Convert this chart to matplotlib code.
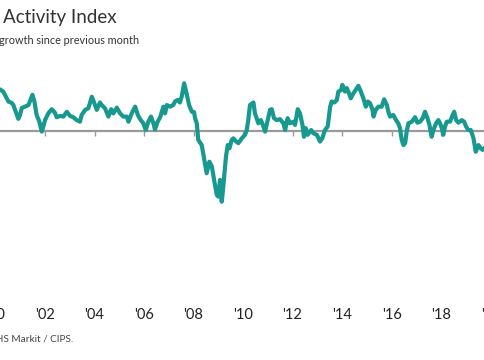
import numpy as np
import matplotlib.pyplot as plt

plt.rcParams['font.family'] = ['Lato', 'DejaVu Sans']

# index values (50 = no change)
years = [2000.18, 2000.31, 2000.38, 2000.52, 2000.65, 2000.72, 2000.79, 2000.92, 2000.99,
         2001.06, 2001.19, 2001.33, 2001.49, 2001.57, 2001.66, 2001.77, 2001.87, 2001.93,
         2002.00, 2002.13, 2002.27, 2002.40, 2002.47, 2002.61, 2002.74, 2002.88,
         2003.01, 2003.14, 2003.28, 2003.41, 2003.48, 2003.62, 2003.75, 2003.89, 2003.99,
         2004.09, 2004.22, 2004.29, 2004.42, 2004.56, 2004.67, 2004.76, 2004.90,
         2005.03, 2005.16, 2005.30, 2005.37, 2005.50, 2005.64, 2005.75, 2005.84, 2005.97,
         2006.07, 2006.17, 2006.28, 2006.38, 2006.44, 2006.55, 2006.65, 2006.78, 2006.85, 2006.92,
         2007.05, 2007.18, 2007.25, 2007.36, 2007.45, 2007.52, 2007.62, 2007.73, 2007.82, 2007.93,
         2008.02, 2008.06, 2008.13, 2008.19, 2008.33, 2008.46, 2008.53, 2008.64, 2008.74, 2008.83, 2008.94,
         2009.00, 2009.07, 2009.14, 2009.20, 2009.31, 2009.38, 2009.45, 2009.54, 2009.61, 2009.72, 2009.81, 2009.95,
         2010.08, 2010.15, 2010.21, 2010.28, 2010.42, 2010.48, 2010.62, 2010.72, 2010.80, 2010.89, 2010.98,
         2011.09, 2011.16, 2011.25, 2011.36, 2011.49, 2011.63, 2011.70, 2011.80, 2011.90,
         2012.03, 2012.10, 2012.21, 2012.30, 2012.40, 2012.46, 2012.53, 2012.61, 2012.75, 2012.84, 2012.98,
         2013.11, 2013.20, 2013.31, 2013.42, 2013.52, 2013.58, 2013.69, 2013.79, 2013.85, 2013.96,
         2014.01, 2014.12, 2014.19, 2014.28, 2014.35, 2014.46, 2014.55, 2014.66, 2014.76, 2014.86, 2014.96,
         2015.04, 2015.13, 2015.23, 2015.27, 2015.36, 2015.47, 2015.60, 2015.70, 2015.81, 2015.87, 2015.94,
         2016.07, 2016.18, 2016.27, 2016.34, 2016.41, 2016.48, 2016.55, 2016.61, 2016.68, 2016.82, 2016.95,
         2017.04, 2017.15, 2017.26, 2017.35, 2017.45, 2017.53, 2017.62, 2017.69, 2017.80, 2017.89, 2017.96,
         2018.03, 2018.09, 2018.16, 2018.23, 2018.36, 2018.47, 2018.53, 2018.61, 2018.70, 2018.84, 2018.93,
         2019.01, 2019.10, 2019.20, 2019.31, 2019.40, 2019.51, 2019.60, 2019.68, 2019.78, 2019.85]

index = [62.9, 62.2, 61.2, 59.1, 58.7, 58.0, 56.5, 53.7, 54.9,
         57.1, 57.5, 58.0, 61.2, 59.1, 54.9, 52.8, 49.7, 51.3,
         53.3, 55.4, 56.7, 55.6, 54.2, 54.6, 54.4, 55.9,
         54.6, 54.2, 53.3, 52.8, 54.9, 56.5, 57.0, 60.6, 58.6,
         56.5, 58.8, 58.0, 57.0, 54.4, 56.7, 55.4, 57.2,
         55.4, 54.4, 54.4, 52.8, 55.4, 57.5, 54.9, 53.6, 52.3,
         50.2, 52.8, 54.4, 52.3, 50.4, 52.8, 54.2, 57.5, 55.4, 58.0,
         57.5, 58.0, 59.1, 59.6, 58.8, 60.6, 64.8, 61.2, 58.0, 55.9,
         55.8, 53.9, 52.3, 47.1, 45.5, 39.8, 36.7, 40.3, 38.8, 34.6, 29.9,
         29.4, 34.6, 27.8, 32.5, 41.9, 45.5, 44.5, 47.1, 47.6, 46.6, 46.1, 47.6,
         48.7, 50.2, 53.3, 58.0, 58.8, 55.4, 52.3, 53.3, 51.8, 49.7, 52.8,
         56.5, 56.7, 53.9, 53.3, 53.6, 52.3, 50.2, 53.9, 52.3,
         52.8, 51.8, 56.7, 55.4, 51.8, 48.1, 50.8, 48.7, 50.2, 49.2, 48.7,
         46.6, 47.6, 50.2, 51.3, 57.5, 59.1, 58.8, 59.6, 62.2, 62.7,
         64.3, 62.2, 63.3, 61.7, 60.1, 61.7, 62.7, 64.0, 62.2, 60.1, 57.5,
         59.1, 58.6, 56.5, 54.4, 56.5, 57.5, 57.5, 59.8, 58.0, 55.9, 54.4,
         54.9, 53.3, 52.3, 50.8, 47.1, 45.5, 46.1, 49.7, 52.3, 52.8, 54.2,
         52.5, 52.8, 53.9, 55.9, 53.9, 51.8, 48.1, 50.2, 52.3, 53.3, 52.3,
         50.8, 48.7, 51.3, 52.8, 52.8, 54.9, 55.9, 53.3, 52.5, 53.3, 52.8,
         51.3, 50.2, 50.2, 47.6, 43.4, 45.5, 44.5, 44.0, 44.8, 44.6]

tick_years = list(range(2000, 2021, 2))
tick_labels = ["'%02d" % (y % 100) for y in tick_years]

fig = plt.figure(figsize=(4.85, 3.6), dpi=100)
ax = fig.add_axes([-0.0245, 0.2222, 1.0462, 0.6389])
ax.set_xlim(1999.7, 2020.2)
ax.set_ylim(3.34, 75.2)

# no-change line with small year ticks hanging below it
ax.axhline(50, color='#9a9a9a', lw=1.6, zorder=1)
ax.plot(years, index, color='#17998f', lw=3.0, zorder=3,
        solid_joinstyle='round', solid_capstyle='round')

zero_pos = (50 - 3.34) / (75.2 - 3.34)
sec = ax.secondary_xaxis(zero_pos)
sec.set_alignment('bottom')
sec.set_xticks(tick_years, labels=[''] * len(tick_years))
sec.tick_params(axis='x', length=3.5, width=1, color='#9a9a9a',
                labelbottom=False, labeltop=False)
for s in sec.spines.values():
    s.set_visible(False)

ax.set_xticks(tick_years)
ax.set_xticklabels(tick_labels)
ax.tick_params(axis='x', length=0, pad=20, labelsize=10.5, labelcolor='#222222')
ax.set_yticks([])
for s in ax.spines.values():
    s.set_visible(False)

fig.text(3 / 485, 1 - 18 / 360, 'Activity Index', fontsize=13.5, color='#333333', va='center')
fig.text(-1 / 485, 1 - 41 / 360, 'growth since previous month', fontsize=7.8, color='#333333', va='center')
fig.text(-7 / 485, 1 - 339 / 360, 'IHS Markit / CIPS.', fontsize=7.2, color='#444444', va='center')

fig.savefig('out.png', dpi=100)
